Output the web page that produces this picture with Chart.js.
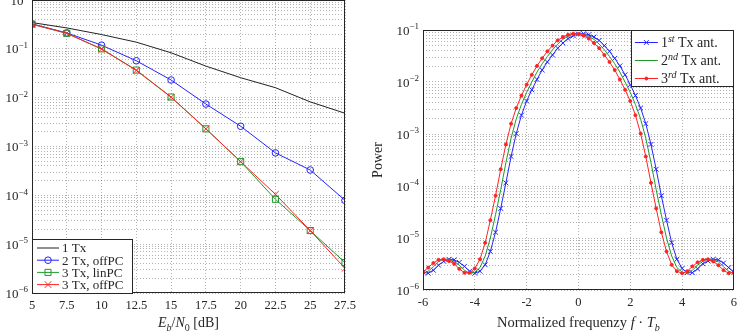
<!DOCTYPE html>
<html>
<head>
<meta charset="utf-8">
<script src="https://cdn.jsdelivr.net/npm/chart.js@4"></script>
<style>
  html, body { margin: 0; padding: 0; background: #fff; }
  body { width: 742px; height: 331px; position: relative; overflow: hidden; }
  #berWrap { position: absolute; left: 0; top: -12px; width: 370px; height: 343px; }
  #psdWrap { position: absolute; left: 370px; top: 0; width: 372px; height: 331px; }
</style>
</head>
<body>
<div id="berWrap"><canvas id="berChart" width="370" height="343"></canvas></div>
<div id="psdWrap"><canvas id="psdChart" width="372" height="331"></canvas></div>
<script>
// ---- left plot: BER vs Eb/N0 ----
var ebN0 = [5, 7.5, 10, 12.5, 15, 17.5, 20, 22.5, 25, 27.5];
var ber1Tx = [0.345, 0.268, 0.196, 0.137, 0.083, 0.0443, 0.0256, 0.016, 0.0082, 0.0048];
var ber2TxOffPC = [0.324, 0.212, 0.119, 0.0569, 0.023, 0.0074, 0.0026, 7.4e-4, 3.3e-4, 7.9e-5];
var ber3TxLinPC = [0.32, 0.208, 0.1, 0.0367, 0.0103, 0.0023, 4.9e-4, 8.3e-5, 1.9e-5, 4.2e-6];
var ber3TxOffPC = [0.32, 0.208, 0.099, 0.0362, 0.0102, 0.0023, 4.9e-4, 1.05e-4, 1.9e-5, 3.2e-6];
var berLabels = ["1 Tx", "2 Tx, offPC", "3 Tx, linPC", "3 Tx, offPC"];
var berTicksX = [5, 7.5, 10, 12.5, 15, 17.5, 20, 22.5, 25, 27.5];
var berDecades = [-6, 0];

// ---- right plot: power spectrum ----
var freq = [-6, -5.8, -5.6, -5.4, -5.2, -5, -4.8, -4.6, -4.4, -4.2, -4, -3.8, -3.6, -3.4, -3.2, -3,
  -2.8, -2.6, -2.4, -2.2, -2, -1.8, -1.6, -1.4, -1.2, -1, -0.8, -0.6, -0.4, -0.2, 0,
  0.2, 0.4, 0.6, 0.8, 1, 1.2, 1.4, 1.6, 1.8, 2, 2.2, 2.4, 2.6, 2.8, 3, 3.2, 3.4, 3.6, 3.8,
  4, 4.2, 4.4, 4.6, 4.8, 5, 5.2, 5.4, 5.6, 5.8, 6];
var power1st = [2.2e-6, 2.1e-6, 2.4e-6, 3.0e-6, 3.55e-6, 3.9e-6, 3.8e-6, 3.4e-6, 2.85e-6, 2.3e-6,
  2.1e-6, 2.3e-6, 3.05e-6, 5.5e-6, 1.29e-5, 3.7e-5, 1.15e-4, 3.7e-4, 1.02e-3, 2.3e-3,
  4.3e-3, 7.1e-3, 0.0112, 0.0170, 0.0243, 0.0331, 0.0447, 0.0562, 0.0684, 0.0776,
  0.0836, 0.0851, 0.0813, 0.0733, 0.0631, 0.0501, 0.0389, 0.0285, 0.0204, 0.0138,
  0.0089, 0.0055, 0.00316, 0.00158, 6.3e-4, 2.1e-4, 6.5e-5, 2.2e-5, 8.1e-6, 3.9e-6,
  2.6e-6, 2.15e-6, 2.15e-6, 2.55e-6, 3.2e-6, 3.6e-6, 3.9e-6, 3.8e-6, 3.3e-6, 2.7e-6, 2.2e-6];
var power2nd = [2.1e-6, 2.3e-6, 2.8e-6, 3.5e-6, 3.9e-6, 3.9e-6, 3.55e-6, 3.0e-6, 2.4e-6, 2.1e-6,
  2.2e-6, 2.7e-6, 4.5e-6, 1.0e-5, 2.8e-5, 8.5e-5, 2.8e-4, 8.3e-4, 1.95e-3, 3.7e-3,
  6.3e-3, 0.0100, 0.0155, 0.0224, 0.0309, 0.0417, 0.0537, 0.0661, 0.0759, 0.0832,
  0.0851, 0.0832, 0.0759, 0.0661, 0.0537, 0.0417, 0.0309, 0.0224, 0.0155, 0.0100,
  6.3e-3, 3.7e-3, 1.95e-3, 8.3e-4, 2.8e-4, 8.5e-5, 2.8e-5, 1.0e-5, 4.5e-6, 2.7e-6,
  2.2e-6, 2.1e-6, 2.4e-6, 3.0e-6, 3.55e-6, 3.9e-6, 3.9e-6, 3.5e-6, 2.8e-6, 2.3e-6, 2.1e-6];
var power3rd = [2.2e-6, 2.7e-6, 3.3e-6, 3.8e-6, 3.9e-6, 3.6e-6, 3.2e-6, 2.55e-6, 2.15e-6, 2.15e-6,
  2.6e-6, 3.9e-6, 8.1e-6, 2.2e-5, 6.5e-5, 2.1e-4, 6.3e-4, 0.00158, 0.00316, 0.0055,
  0.0089, 0.0138, 0.0204, 0.0285, 0.0389, 0.0501, 0.0631, 0.0733, 0.0813, 0.0851,
  0.0836, 0.0776, 0.0684, 0.0562, 0.0447, 0.0331, 0.0243, 0.0170, 0.0112, 7.1e-3,
  4.3e-3, 2.3e-3, 1.02e-3, 3.7e-4, 1.15e-4, 3.7e-5, 1.29e-5, 5.5e-6, 3.05e-6, 2.3e-6,
  2.1e-6, 2.3e-6, 2.85e-6, 3.4e-6, 3.8e-6, 3.9e-6, 3.55e-6, 3.0e-6, 2.4e-6, 2.1e-6, 2.2e-6];
var psdLabels = ["1st Tx ant.", "2nd Tx ant.", "3rd Tx ant."];
var psdLegendParts = [["1", "st", " Tx ant."], ["2", "nd", " Tx ant."], ["3", "rd", " Tx ant."]];
var psdTicksX = [-6, -4, -2, 0, 2, 4, 6];
var psdDecades = [-6, -1];

var SERIF = '"Liberation Serif", "DejaVu Serif", serif';
var TEXT = "#262626";
var GRID = "rgba(0,0,0,0.3)";
var BLUE = "#2323ff", GREEN = "#1f9a2a", RED = "#ff2222", BLACK = "#222";

function fontFor(p, size) {
  var s = (p.sub || p.sup) ? Math.round(size * 0.72) : size;
  return (p.i ? "italic " : "") + s + "px " + SERIF;
}

function drawRich(ctx, parts, x, baseline, size, align) {
  var widths = parts.map(function (p) { ctx.font = fontFor(p, size); return ctx.measureText(p.t).width; });
  var total = widths.reduce(function (a, b) { return a + b; }, 0);
  if (align === "center") x -= total / 2;
  if (align === "right") x -= total;
  ctx.textAlign = "left";
  ctx.textBaseline = "alphabetic";
  parts.forEach(function (p, i) {
    ctx.font = fontFor(p, size);
    var dy = p.sub ? size * 0.25 : (p.sup ? -size * 0.4 : 0);
    ctx.fillText(p.t, x, baseline + dy);
    x += widths[i];
  });
}

// ticks at 1..9 x 10^e; the labels on the decades are drawn by the plugin below
function logTicks(lo, hi) {
  var t = [];
  for (var e = lo; e < hi; e++) {
    for (var m = 1; m < 10; m++) t.push({ value: m * Math.pow(10, e) });
  }
  t.push({ value: Math.pow(10, hi) });
  return t;
}

function decadeLabels(chart, decades) {
  var ctx = chart.ctx, y = chart.scales.y, a = chart.chartArea;
  ctx.save();
  ctx.fillStyle = TEXT;
  for (var e = decades[0]; e <= decades[1]; e++) {
    var py = y.getPixelForValue(Math.pow(10, e));
    drawRich(ctx, [{ t: "10" }, { t: (e < 0 ? "\u2212" : "") + Math.abs(e), sup: 1 }],
      a.left - 4, py + 4.5, 13, "right");
  }
  ctx.restore();
}

function drawMarker(ctx, style, r, x, y, fill) {
  if (!style || r <= 0) return;
  ctx.beginPath();
  if (style === "circle") {
    ctx.arc(x, y, r, 0, Math.PI * 2);
  } else if (style === "rect") {
    var s = r * Math.SQRT1_2;
    ctx.rect(x - s, y - s, 2 * s, 2 * s);
  } else if (style === "crossRot") {
    var d = r * Math.SQRT1_2;
    ctx.moveTo(x - d, y - d); ctx.lineTo(x + d, y + d);
    ctx.moveTo(x - d, y + d); ctx.lineTo(x + d, y - d);
  }
  if (fill) ctx.fill();
  ctx.stroke();
}

var framePlugin = {
  id: "frame",
  afterDatasetsDraw: function (chart) {
    var a = chart.chartArea, ctx = chart.ctx;
    ctx.save();
    ctx.strokeStyle = "#262626";
    ctx.lineWidth = 1;
    ctx.strokeRect(Math.round(a.left) + 0.5, Math.round(a.top) + 0.5,
      Math.round(a.right - a.left) - 1, Math.round(a.bottom - a.top) - 1);
    ctx.restore();
  }
};

function legendBox(ctx, x, y, w, h) {
  ctx.fillStyle = "#fff";
  ctx.fillRect(x, y, w, h);
  ctx.strokeStyle = "#262626";
  ctx.lineWidth = 1;
  ctx.strokeRect(Math.round(x) + 0.5, Math.round(y) + 0.5, w, h);
}

function legendSample(ctx, ds, x1, x2, y) {
  ctx.strokeStyle = ds.borderColor;
  ctx.fillStyle = ds.pointBackgroundColor || ds.borderColor;
  ctx.lineWidth = 1;
  ctx.beginPath();
  ctx.moveTo(x1, y); ctx.lineTo(x2, y);
  ctx.stroke();
  drawMarker(ctx, ds.pointStyle, ds.pointRadius, (x1 + x2) / 2, y,
    ds.pointStyle === "circle" && ds.pointBackgroundColor !== "rgba(0,0,0,0)");
}

var berExtras = {
  id: "berExtras",
  afterDraw: function (chart) {
    var a = chart.chartArea, ctx = chart.ctx;
    decadeLabels(chart, berDecades);
    ctx.save();
    var bx = a.left, by = a.bottom - 54, bw = 100, bh = 54;
    legendBox(ctx, bx, by, bw, bh);
    chart.data.datasets.forEach(function (ds, i) {
      var y = by + 9 + i * 12.2;
      legendSample(ctx, ds, bx + 5, bx + 27, y);
      ctx.fillStyle = TEXT;
      drawRich(ctx, [{ t: ds.label }], bx + 30, y + 4.3, 13, "left");
    });
    ctx.fillStyle = TEXT;
    drawRich(ctx, [{ t: "E", i: 1 }, { t: "b", i: 1, sub: 1 }, { t: "/" }, { t: "N", i: 1 },
      { t: "0", sub: 1 }, { t: " [dB]" }], (a.left + a.right) / 2, 339, 14, "center");
    ctx.restore();
  }
};

var psdExtras = {
  id: "psdExtras",
  afterDraw: function (chart) {
    var a = chart.chartArea, ctx = chart.ctx;
    decadeLabels(chart, psdDecades);
    ctx.save();
    var bw = 102, bh = 56, bx = a.right - bw - 1, by = a.top;
    legendBox(ctx, bx, by, bw, bh);
    chart.data.datasets.forEach(function (ds, i) {
      var y = by + 12.5 + i * 18;
      legendSample(ctx, ds, bx + 4, bx + 27, y);
      ctx.fillStyle = TEXT;
      var p = psdLegendParts[i];
      drawRich(ctx, [{ t: p[0] }, { t: p[1], i: 1, sup: 1 }, { t: p[2] }], bx + 30, y + 4.8, 14, "left");
    });
    ctx.fillStyle = TEXT;
    drawRich(ctx, [{ t: "Normalized frequenzy " }, { t: "f", i: 1 }, { t: " \u00B7 " },
      { t: "T", i: 1 }, { t: "b", i: 1, sub: 1 }], (a.left + a.right) / 2, 327, 14.5, "center");
    ctx.translate(8, (a.top + a.bottom) / 2);
    ctx.rotate(-Math.PI / 2);
    ctx.font = "14px " + SERIF;
    ctx.textAlign = "center";
    ctx.textBaseline = "middle";
    ctx.fillText("Power", 0, 0);
    ctx.restore();
  }
};

function xAxis(min, max, ticksX, height) {
  return {
    type: "linear", min: min, max: max,
    afterBuildTicks: function (scale) { scale.ticks = ticksX.map(function (v) { return { value: v }; }); },
    afterFit: function (scale) { scale.height = height; },
    ticks: { autoSkip: false, maxRotation: 0, padding: 5, color: TEXT,
      font: { family: SERIF, size: 12.5 }, callback: function (v) { return String(v); } },
    grid: { color: GRID, lineWidth: 1, drawTicks: false },
    border: { display: false, dash: [1, 2] }
  };
}

function yAxis(decades, width) {
  return {
    type: "logarithmic", min: Math.pow(10, decades[0]), max: Math.pow(10, decades[1]),
    afterBuildTicks: function (scale) { scale.ticks = logTicks(decades[0], decades[1]); },
    afterFit: function (scale) { scale.width = width; },
    ticks: { display: false },
    grid: { color: GRID, lineWidth: 1, drawTicks: false },
    border: { display: false, dash: [1, 2] }
  };
}

window.onload = function () {
  var berSeries = [ber1Tx, ber2TxOffPC, ber3TxLinPC, ber3TxOffPC];
  var berStyle = [
    { color: BLACK, point: false, r: 0 },
    { color: BLUE, point: "circle", r: 3.3 },
    { color: GREEN, point: "rect", r: 4.3 },
    { color: RED, point: "crossRot", r: 4.7 }
  ];
  new Chart(document.getElementById("berChart").getContext("2d"), {
    type: "line",
    data: {
      datasets: berSeries.map(function (vals, i) {
        return {
          label: berLabels[i],
          data: ebN0.map(function (x, k) { return { x: x, y: vals[k] }; }),
          borderColor: berStyle[i].color,
          backgroundColor: berStyle[i].color,
          pointBackgroundColor: "rgba(0,0,0,0)",
          pointBorderColor: berStyle[i].color,
          pointStyle: berStyle[i].point,
          pointRadius: berStyle[i].r,
          pointBorderWidth: 1,
          borderWidth: 1,
          tension: 0,
          order: 10 - i
        };
      })
    },
    options: {
      responsive: false, animation: false, devicePixelRatio: 1,
      layout: { padding: { left: 0, right: 25, top: 12, bottom: 0 } },
      plugins: { legend: { display: false }, tooltip: { enabled: false } },
      scales: { x: xAxis(5, 27.5, berTicksX, 38), y: yAxis(berDecades, 32) }
    },
    plugins: [framePlugin, berExtras]
  });

  var psdSeries = [power1st, power2nd, power3rd];
  var psdStyle = [
    { color: BLUE, point: "crossRot", r: 3.4, fill: "rgba(0,0,0,0)" },
    { color: GREEN, point: false, r: 0, fill: GREEN },
    { color: RED, point: "circle", r: 1.5, fill: RED }
  ];
  new Chart(document.getElementById("psdChart").getContext("2d"), {
    type: "line",
    data: {
      datasets: psdSeries.map(function (vals, i) {
        return {
          label: psdLabels[i],
          data: freq.map(function (f, k) { return { x: f, y: vals[k] }; }),
          borderColor: psdStyle[i].color,
          backgroundColor: psdStyle[i].color,
          pointBackgroundColor: psdStyle[i].fill,
          pointBorderColor: psdStyle[i].color,
          pointStyle: psdStyle[i].point,
          pointRadius: psdStyle[i].r,
          pointBorderWidth: 1,
          borderWidth: 1,
          tension: 0,
          order: 10 - i
        };
      })
    },
    options: {
      responsive: false, animation: false, devicePixelRatio: 1,
      layout: { padding: { left: 0, right: 6, top: 30, bottom: 0 } },
      plugins: { legend: { display: false }, tooltip: { enabled: false } },
      scales: { x: xAxis(-6, 6, psdTicksX, 41), y: yAxis(psdDecades, 53) }
    },
    plugins: [framePlugin, psdExtras]
  });
};
</script>
</body>
</html>
